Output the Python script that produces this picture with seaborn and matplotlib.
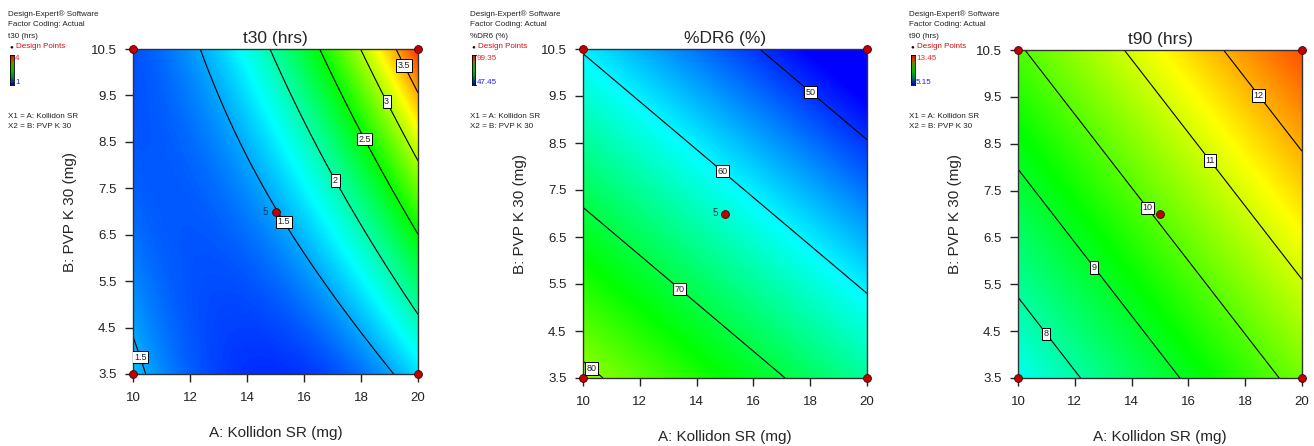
import numpy as np
import pandas as pd
import matplotlib
matplotlib.use("Agg")
import matplotlib.pyplot as plt
import seaborn as sns
from matplotlib.colors import LinearSegmentedColormap

# Factor ranges and ticks
kollidon_range = [10, 20]
pvp_range = [3.5, 10.5]
x_ticks = [10, 12, 14, 16, 18, 20]
y_ticks = [3.5, 4.5, 5.5, 6.5, 7.5, 8.5, 9.5, 10.5]
x_label = "A: Kollidon SR (mg)"
y_label = "B: PVP K 30 (mg)"

# Design points (actual units); the centre point is replicated
design_kollidon = [10, 20, 10, 20, 15]
design_pvp = [3.5, 3.5, 10.5, 10.5, 7]
centre_replicates = "5"

# Responses
responses = ["t30 (hrs)", "%DR6 (%)", "t90 (hrs)"]

# Quadratic models in coded factors: intercept, A, B, AB, A^2, B^2
coef_t30 = [1.49, 0.67, 0.46, 0.63, 0.49, 0.10]
coef_dr6 = [62.6, -7.8, -10.7, 0.0, 0.0, 0.0]
coef_t90 = [10.08, 1.43, 1.28, 0.0, 0.0, 0.0]

# Colour scale limits (observed response range) and their legend labels
range_t30 = [1, 4]
range_dr6 = [47.45, 99.35]
range_t90 = [5.15, 13.45]
legend_t30 = ["4", "1"]
legend_dr6 = ["99.35", "47.45"]
legend_t90 = ["13.45", "5.15"]

# Contour levels
levels_t30 = [1.5, 2, 2.5, 3, 3.5]
levels_dr6 = [50, 60, 70, 80]
levels_t90 = [8, 9, 10, 11, 12]

# Contour label anchor points (A, B)
labelpos_t30 = [(15.55, 6.87), (10.2, 3.85), (17.2, 7.7), (18.25, 8.6), (19.0, 9.4), (19.6, 10.17)]
labelpos_dr6 = [(18.1, 9.64), (15.0, 7.97), (13.5, 5.46), (10.42, 3.78)]
labelpos_t90 = [(18.58, 9.58), (16.84, 8.18), (14.62, 7.17), (12.76, 5.89), (11.07, 4.48)]

panels = [
    dict(name=responses[0], coef=coef_t30, vr=range_t30, leg=legend_t30,
         levels=levels_t30, lpos=labelpos_t30, fmt="%g", rep=True,
         rect=[133, 49, 418, 374], text_x=8),
    dict(name=responses[1], coef=coef_dr6, vr=range_dr6, leg=legend_dr6,
         levels=levels_dr6, lpos=labelpos_dr6, fmt="%g", rep=True,
         rect=[583, 49, 867, 378], text_x=470),
    dict(name=responses[2], coef=coef_t90, vr=range_t90, leg=legend_t90,
         levels=levels_t90, lpos=labelpos_t90, fmt="%g", rep=False,
         rect=[1018, 50, 1302, 378], text_x=909),
]

sns.set_theme(style="ticks")
plt.rcParams["font.family"] = ["Liberation Sans", "DejaVu Sans"]

W, H = 1314, 446
fig = plt.figure(figsize=(W / 100, H / 100), dpi=100)

de_cmap = LinearSegmentedColormap.from_list(
    "de", ["#0000ff", "#00ffff", "#00ff00", "#ffff00", "#ff0000"])


def model(coef, a, b):
    x1 = (a - 15.0) / 5.0
    x2 = (b - 7.0) / 3.5
    return (coef[0] + coef[1] * x1 + coef[2] * x2 + coef[3] * x1 * x2
            + coef[4] * x1 ** 2 + coef[5] * x2 ** 2)


ga = np.linspace(kollidon_range[0], kollidon_range[1], 300)
gb = np.linspace(pvp_range[0], pvp_range[1], 300)
GA, GB = np.meshgrid(ga, gb)

design = pd.DataFrame({"A": design_kollidon, "B": design_pvp})

for p in panels:
    x0, y0, x1, y1 = p["rect"]
    ax = fig.add_axes([x0 / W, 1 - y1 / H, (x1 - x0) / W, (y1 - y0) / H])
    Z = model(p["coef"], GA, GB)
    ax.imshow(Z, origin="lower", aspect="auto", cmap=de_cmap,
              vmin=p["vr"][0], vmax=p["vr"][1], interpolation="bilinear",
              extent=[kollidon_range[0], kollidon_range[1], pvp_range[0], pvp_range[1]])
    cs = ax.contour(GA, GB, Z, levels=p["levels"], colors="black", linewidths=0.8)
    labels = ax.clabel(cs, fmt=p["fmt"], fontsize=6.5, inline=False, manual=p["lpos"])
    for t in labels:
        t.set_rotation(0)
        t.set_color("#222222")
        t.set_bbox(dict(facecolor="white", edgecolor="black", linewidth=0.7, pad=1.2))
        t.set_zorder(6)

    sns.scatterplot(data=design, x="A", y="B", ax=ax, color="#c00000",
                    edgecolor="#400000", linewidth=0.6, s=32, zorder=5,
                    clip_on=False, legend=False)
    if p["rep"]:
        ax.text(14.75, 7.0, centre_replicates, fontsize=7, color="#1a3550",
                ha="right", va="center", zorder=4)

    ax.set_xlim(kollidon_range)
    ax.set_ylim(pvp_range)
    ax.set_xticks(x_ticks)
    ax.set_yticks(y_ticks)
    ax.set_yticklabels([f"{v:.1f}" for v in y_ticks])
    ax.tick_params(direction="out", length=6, width=1, labelsize=9.5,
                   color="#222222", labelcolor="#222222")
    ax.tick_params(axis="x", pad=7)
    ax.tick_params(axis="y", pad=6)
    for s in ax.spines.values():
        s.set_color("#333333")
        s.set_linewidth(1)
    ax.set_xlabel(x_label, fontsize=11, labelpad=16)
    ax.set_ylabel(y_label, fontsize=11, labelpad=10)
    ax.set_title(p["name"], fontsize=12.5, pad=4)

    # side panel info
    tx = p["text_x"]
    info = ["Design-Expert\u00ae Software", "Factor Coding: Actual", p["name"]]
    for i, line in enumerate(info):
        fig.text(tx / W, 1 - (14 + 11 * i) / H, line, fontsize=5.8,
                 color="#222222", va="center", ha="left")
    fig.text((tx + 1) / W, 1 - 47 / H, "\u25CF", fontsize=4.5, color="#300000",
             va="center", ha="left")
    fig.text((tx + 8) / W, 1 - 47 / H, "Design Points", fontsize=5.8,
             color="#d01010", va="center", ha="left")
    cax = fig.add_axes([(tx + 2) / W, 1 - 85 / H, 3.5 / W, 30 / H])
    cax.imshow(np.linspace(0, 1, 100)[:, None], origin="lower", aspect="auto",
               cmap=LinearSegmentedColormap.from_list(
                   "legbar", ["#0000c0", "#008040", "#00c000", "#808000", "#ff0000"]))
    cax.set_xticks([])
    cax.set_yticks([])
    for s in cax.spines.values():
        s.set_linewidth(0.6)
        s.set_color("black")
    fig.text((tx + 7) / W, 1 - 59 / H, p["leg"][0], fontsize=5.8, color="#ff2020",
             va="center", ha="left")
    fig.text((tx + 7) / W, 1 - 82 / H, p["leg"][1], fontsize=5.8, color="#2020ff",
             va="center", ha="left")
    fig.text(tx / W, 1 - 116 / H, "X1 = A: Kollidon SR", fontsize=5.8,
             color="#222222", va="center", ha="left")
    fig.text(tx / W, 1 - 127 / H, "X2 = B: PVP K 30", fontsize=5.8,
             color="#222222", va="center", ha="left")

fig.savefig("out.png", dpi=100, facecolor="white")
